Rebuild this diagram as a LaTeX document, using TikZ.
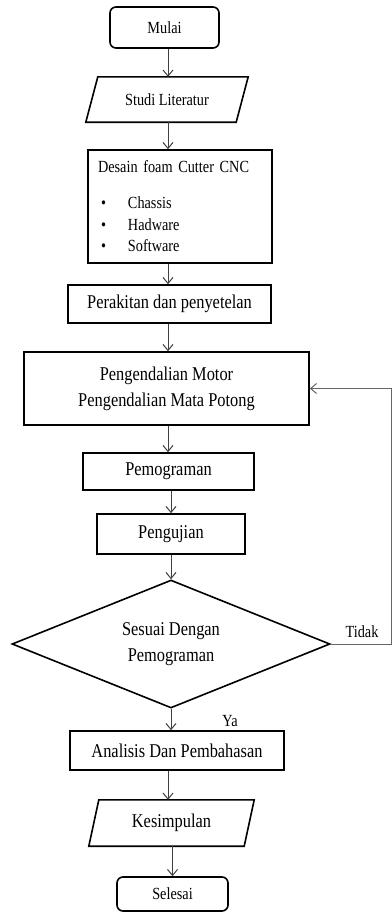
\documentclass[tikz,border=0pt]{standalone}
\usepackage{fontspec}
\setmainfont{Liberation Serif}[FakeStretch=0.84]
\usetikzlibrary{arrows.meta,shapes.geometric}

\newcommand{\bigtxt}{\fontsize{19.5}{26}\selectfont}
\newcommand{\smalltxt}{\fontsize{17}{21.5}\selectfont}
\newcommand{\blt}{\makebox[30pt][l]{\hspace{3pt}\textbullet}}

\begin{document}
\begin{tikzpicture}[x=1pt, y=-1pt,
    box/.style={draw, line width=1.6pt, inner sep=0pt, font=\bigtxt, align=center},
    term/.style={box, rounded corners=6pt, font=\smalltxt},
    io/.style={inner sep=0pt, align=center},
    dec/.style={draw, diamond, line width=1.6pt, inner sep=0pt, aspect=2.5, font=\bigtxt, align=center},
    flow/.style={line width=1pt, black!75, -{Straight Barb[length=6pt,width=10pt]}},
    back/.style={line width=1pt, black!60}]

\useasboundingbox (0,0) rectangle (391,913);
\coordinate (spine) at (168,0);
\coordinate (turn) at (391.8,0);

% terminals and steps
\node[term, minimum width=109pt, minimum height=41pt] (mulai) at (164.5,27.5) {Mulai};
\node[io, font=\smalltxt, minimum width=150pt, minimum height=45pt] (studi) at (167,99.5) {Studi Literatur};
\draw[line width=1.6pt] ([xshift=6pt]studi.north west) -- ([xshift=6pt]studi.north east)
    -- ([xshift=-6pt]studi.south east) -- ([xshift=-6pt]studi.south west) -- cycle;
\node[box, font=\smalltxt, align=left, text width=164pt, inner xsep=10pt, minimum height=113pt] (desain) at (180,206.5)
    {Desain foam Cutter CNC\\[14.5pt] \blt Chassis\\ \blt Hadware\\ \blt Software};
\node[box, minimum width=203pt, minimum height=38pt] (rakit) at (169.5,304) {Perakitan dan penyetelan};
\node[box, minimum width=285pt, minimum height=73pt] (kendali) at (166.5,388.5) {Pengendalian Motor\\Pengendalian Mata Potong};
\node[box, minimum width=171pt, minimum height=37pt] (program) at (168.5,471.5) {Pemograman};
\node[box, minimum width=148pt, minimum height=40pt] (uji) at (171,534) {Pengujian};
\node[dec, minimum width=318pt, minimum height=128pt] (sesuai) at (171,644) {Sesuai Dengan\\Pemograman};
\node[box, minimum width=214pt, minimum height=39pt] (analisis) at (177,750.5) {Analisis Dan Pembahasan};
\node[io, font=\bigtxt, minimum width=155pt, minimum height=46pt] (simpul) at (171.5,823) {Kesimpulan};
\draw[line width=1.6pt] ([xshift=5pt]simpul.north west) -- ([xshift=5pt]simpul.north east)
    -- ([xshift=-5pt]simpul.south east) -- ([xshift=-5pt]simpul.south west) -- cycle;
\node[term, minimum width=111pt, minimum height=34pt] (selesai) at (172.5,894) {Selesai};

% labels
\node[font=\smalltxt] (tidak) at (362,632) {Tidak};
\node[font=\smalltxt] (ya) at (230,721) {Ya};

% connectors
\draw[flow] (mulai.south -| spine) -- (studi.north -| spine);
\draw[flow] (studi.south -| spine) -- (desain.north -| spine);
\draw[flow] (desain.south -| spine) -- (rakit.north -| spine);
\draw[flow] (rakit.south -| spine) -- (kendali.north -| spine);
\draw[flow] (kendali.south -| spine) -- (program.north -| spine);
\draw[flow] (program.south -| sesuai.north) -- (uji.north -| sesuai.north);
\draw[flow] (uji.south -| sesuai.north) -- (sesuai.north);
\draw[flow] (sesuai.south) -- (analisis.north -| sesuai.south);
\draw[flow] (analisis.south -| spine) -- (simpul.north -| spine);
\draw[flow] (simpul.south -| selesai.north) -- (selesai.north);
\draw[back, -{Straight Barb[length=6pt,width=10pt]}] (sesuai.east) -- (sesuai.east -| turn) |- (kendali.east);
\end{tikzpicture}
\end{document}
